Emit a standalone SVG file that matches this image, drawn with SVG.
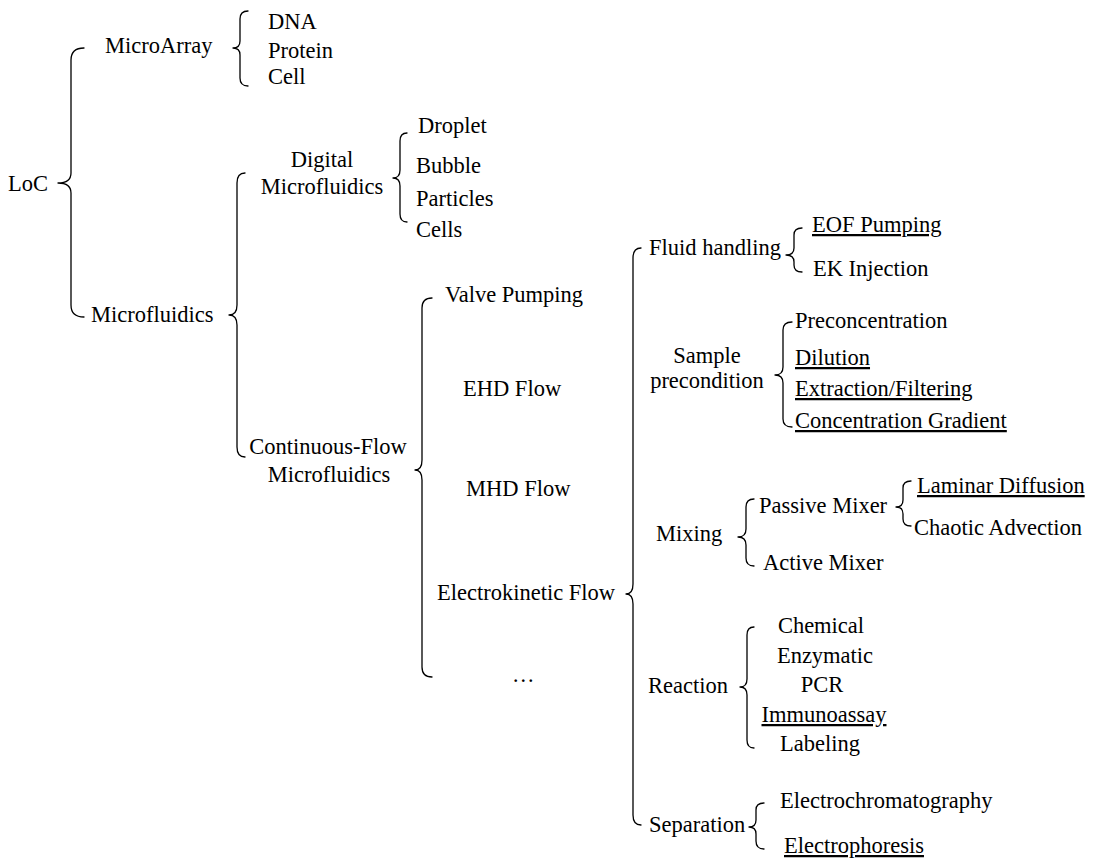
<svg xmlns="http://www.w3.org/2000/svg" width="1097" height="861" viewBox="0 0 1097 861">
<style>
text{font-family:'Liberation Serif','Tinos','Times New Roman','Times','Nimbus Roman','Nimbus Roman No9 L','TeX Gyre Termes','FreeSerif','Noto Serif','DejaVu Serif','Georgia',serif;font-size:22.5px;fill:#000}
.m{text-anchor:middle}
.u{text-decoration:underline}
.br{fill:none;stroke:#000;stroke-width:1.3;stroke-linecap:round;stroke-linejoin:round}
</style>
<rect width="1097" height="861" fill="#fff"/>
<g id="connectors">
<path class="br" d="M84,48 Q71,48 71,60 L71,173 Q71,183 58,183 Q71,183 71,193 L71,305 Q71,317 84,317"/>
<path class="br" d="M248,11 Q240,11 240,19 L240,41 Q240,48 233,48 Q240,48 240,55 L240,78 Q240,86 248,86"/>
<path class="br" d="M245,173 Q237,173 237,183 L237,305 Q237,315 229,315 Q237,315 237,325 L237,447 Q237,457 245,457"/>
<path class="br" d="M407,133 Q400,133 400,141 L400,170 Q400,178 393,178 Q400,178 400,186 L400,214 Q400,222 407,222"/>
<path class="br" d="M432,298 Q422,298 422,308 L422,460 Q422,470 415,470 Q422,470 422,480 L422,667 Q422,677 432,677"/>
<path class="br" d="M641,248 Q633,248 633,258 L633,584 Q633,594 626,594 Q633,594 633,604 L633,815 Q633,825 641,825"/>
<path class="br" d="M802,228 Q794,228 794,235 L794,248 Q794,255 786,255 Q794,255 794,262 L794,265 Q794,272 802,272"/>
<path class="br" d="M792,322 Q783,322 783,330 L783,367 Q783,375 775,375 Q783,375 783,383 L783,419 Q783,427 792,427"/>
<path class="br" d="M754,499 Q746,499 746,507 L746,529 Q746,537 738,537 Q746,537 746,545 L746,558 Q746,566 754,566"/>
<path class="br" d="M911,481 Q903,481 903,488 L903,500 Q903,507 896,507 Q903,507 903,514 L903,519 Q903,526 911,526"/>
<path class="br" d="M754,627 Q747,627 747,635 L747,679 Q747,687 740,687 Q747,687 747,695 L747,740 Q747,748 754,748"/>
<path class="br" d="M764,803 Q756,803 756,810 L756,820 Q756,827 749,827 Q756,827 756,834 L756,841 Q756,849 764,849"/>
</g>
<g id="loc"><text x="8" y="191">LoC</text></g>
<g id="microarray"><text x="105" y="53">MicroArray</text></g>
<g id="dna"><text x="268" y="29">DNA</text></g>
<g id="protein"><text x="268" y="58">Protein</text></g>
<g id="cell"><text x="268" y="84">Cell</text></g>
<g id="microfluidics"><text x="91" y="322">Microfluidics</text></g>
<g id="digital"><text class="m" x="322" y="167">Digital</text><text class="m" x="322" y="194">Microfluidics</text></g>
<g id="droplet"><text x="418" y="133">Droplet</text></g>
<g id="bubble"><text x="416" y="173">Bubble</text></g>
<g id="particles"><text x="416" y="206">Particles</text></g>
<g id="cells"><text x="416" y="237">Cells</text></g>
<g id="continuous"><text class="m" x="328" y="454">Continuous-Flow</text><text class="m" x="329" y="482">Microfluidics</text></g>
<g id="valve"><text x="445" y="302">Valve Pumping</text></g>
<g id="ehd"><text x="463" y="396">EHD Flow</text></g>
<g id="mhd"><text x="466" y="496">MHD Flow</text></g>
<g id="ekflow"><text x="437" y="600">Electrokinetic Flow</text></g>
<g id="etc"><text x="512" y="682">…</text></g>
<g id="fluid"><text x="649" y="255">Fluid handling</text></g>
<g id="eof"><text class="u" x="812" y="232">EOF Pumping</text></g>
<g id="ekinj"><text x="813" y="276">EK Injection</text></g>
<g id="sample"><text class="m" x="707" y="363">Sample</text><text class="m" x="707" y="388">precondition</text></g>
<g id="precon"><text x="795" y="328">Preconcentration</text></g>
<g id="dilution"><text class="u" x="795" y="365">Dilution</text></g>
<g id="extraction"><text class="u" x="795" y="396">Extraction/Filtering</text></g>
<g id="gradient"><text class="u" x="795" y="428">Concentration Gradient</text></g>
<g id="mixing"><text x="656" y="541">Mixing</text></g>
<g id="passive"><text x="759" y="513">Passive Mixer</text></g>
<g id="laminar"><text class="u" x="917" y="493">Laminar Diffusion</text></g>
<g id="chaotic"><text x="914" y="535">Chaotic Advection</text></g>
<g id="active"><text x="763" y="570">Active Mixer</text></g>
<g id="reaction"><text x="648" y="693">Reaction</text></g>
<g id="chemical"><text class="m" x="821" y="633">Chemical</text></g>
<g id="enzymatic"><text class="m" x="825" y="663">Enzymatic</text></g>
<g id="pcr"><text class="m" x="822" y="692">PCR</text></g>
<g id="immuno"><text class="m u" x="824" y="722">Immunoassay</text></g>
<g id="labeling"><text class="m" x="820" y="751">Labeling</text></g>
<g id="separation"><text x="649" y="832">Separation</text></g>
<g id="echrom"><text x="780" y="808">Electrochromatography</text></g>
<g id="ephor"><text class="u" x="784" y="853">Electrophoresis</text></g>
</svg>
